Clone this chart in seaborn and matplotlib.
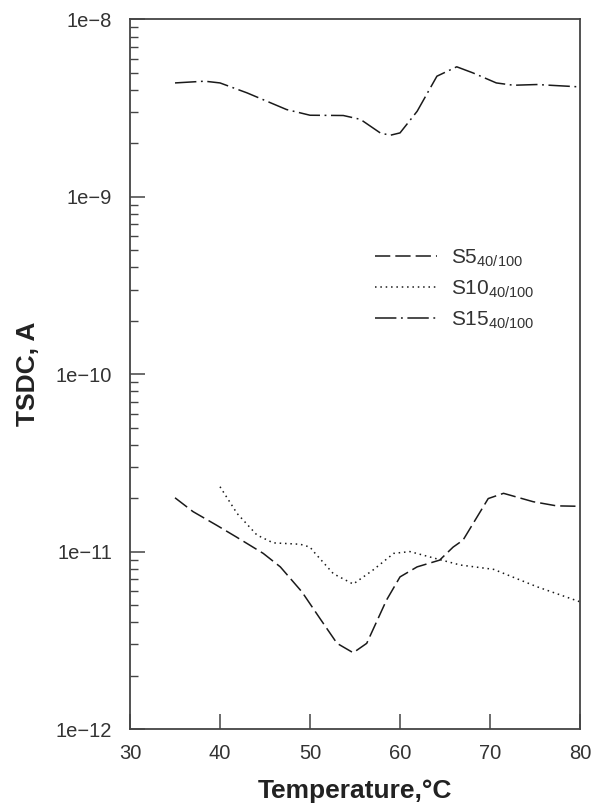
import math
import matplotlib
matplotlib.use('Agg')
import matplotlib.pyplot as plt
import matplotlib.ticker as mticker
import seaborn as sns

# Data (temperature in °C, TSDC in A)
s5_temp = [35, 37, 39.6, 41.8, 44.8, 46.7, 49.1, 51.1, 53.0, 54.8, 56.3, 58.5, 60, 61.9,
           64.4, 65.9, 67, 69.8, 71.5, 74.8, 77.4, 80]
s5_tsdc = [2.01e-11, 1.68e-11, 1.41e-11, 1.21e-11, 9.77e-12, 8.2e-12, 5.93e-12, 4.2e-12,
           3.04e-12, 2.69e-12, 3.04e-12, 5.33e-12, 7.2e-12, 8.2e-12, 8.95e-12, 1.06e-11,
           1.16e-11, 1.99e-11, 2.13e-11, 1.91e-11, 1.81e-11, 1.8e-11]

s10_temp = [40, 41.9, 44.1, 45.9, 48.9, 50.0, 50.4, 52.6, 54.8, 57, 59.3, 61.1, 64.1, 66.7,
            70.4, 75.2, 80]
s10_tsdc = [2.32e-11, 1.64e-11, 1.24e-11, 1.12e-11, 1.10e-11, 1.06e-11, 1.0e-11, 7.5e-12,
            6.56e-12, 7.87e-12, 9.77e-12, 1.0e-11, 9.1e-12, 8.4e-12, 7.94e-12, 6.34e-12,
            5.21e-12]

s15_temp = [35, 38.3, 40, 43, 47.4, 50, 53.7, 55.6, 57.8, 58.9, 60, 61.9, 64.1, 66.3, 68.1,
            70.7, 72.6, 75.2, 80]
s15_tsdc = [4.38e-9, 4.48e-9, 4.38e-9, 3.85e-9, 3.1e-9, 2.88e-9, 2.87e-9, 2.73e-9, 2.29e-9,
            2.22e-9, 2.29e-9, 3.03e-9, 4.78e-9, 5.4e-9, 4.99e-9, 4.38e-9, 4.25e-9, 4.29e-9,
            4.16e-9]

labels = [r'S5$_{\mathregular{40/100}}$', r'S10$_{\mathregular{40/100}}$',
          r'S15$_{\mathregular{40/100}}$']
x_ticks = [30, 40, 50, 60, 70, 80]

sns.set_style('ticks')
plt.rcParams['font.family'] = ['Liberation Sans', 'DejaVu Sans']
plt.rcParams['mathtext.default'] = 'regular'

fig = plt.figure(figsize=(6.03, 8.05), dpi=100)
ax = fig.add_axes([0.2156, 0.0944, 0.7463, 0.8816])

sns.lineplot(x=s5_temp, y=s5_tsdc, ax=ax, color='#1a1a1a', lw=1.1, label=labels[0])
sns.lineplot(x=s10_temp, y=s10_tsdc, ax=ax, color='#1a1a1a', lw=1.1, label=labels[1])
sns.lineplot(x=s15_temp, y=s15_tsdc, ax=ax, color='#1a1a1a', lw=1.1, label=labels[2])
lines = ax.get_lines()
lines[0].set_dashes([10, 3.3])
lines[1].set_dashes([1, 2.5])
lines[2].set_dashes([14, 3, 1.2, 3])

ax.set_yscale('log')
ax.set_xlim(30, 80)
ax.set_ylim(1e-12, 1e-8)
ax.set_xticks(x_ticks)
ax.yaxis.set_major_locator(mticker.LogLocator(base=10, numticks=10))
ax.yaxis.set_minor_locator(mticker.LogLocator(base=10, subs=range(2, 10), numticks=20))
ax.yaxis.set_minor_formatter(mticker.NullFormatter())
ax.yaxis.set_major_formatter(mticker.FuncFormatter(
    lambda v, p: '1e\u2212%d' % round(-math.log10(v))))

ax.tick_params(axis='both', which='major', direction='in', length=11, width=1.1,
               labelsize=14.5, colors='#444444', labelcolor='#333333')
ax.tick_params(axis='x', which='major', pad=11)
ax.tick_params(axis='y', which='major', pad=13)
ax.tick_params(axis='y', which='minor', direction='in', length=6, width=1.0,
               colors='#444444')
ax.tick_params(top=False, right=False, which='both')
for sp in ax.spines.values():
    sp.set_visible(True)
    sp.set_color('#444444')
    sp.set_linewidth(1.3)

ax.set_xlabel('Temperature,°C', fontsize=19, fontweight='bold', color='#222222', labelpad=11)
ax.set_ylabel('TSDC, A', fontsize=19, fontweight='bold', color='#222222', labelpad=11)

leg = ax.legend(loc='upper left', bbox_to_anchor=(0.502, 0.705), frameon=False,
                fontsize=15, handlelength=3.0, handletextpad=0.65, labelspacing=0.47,
                labelcolor='#333333')
for h in leg.get_lines():
    h.set_color('#1a1a1a')

fig.savefig('out.png', dpi=100)
